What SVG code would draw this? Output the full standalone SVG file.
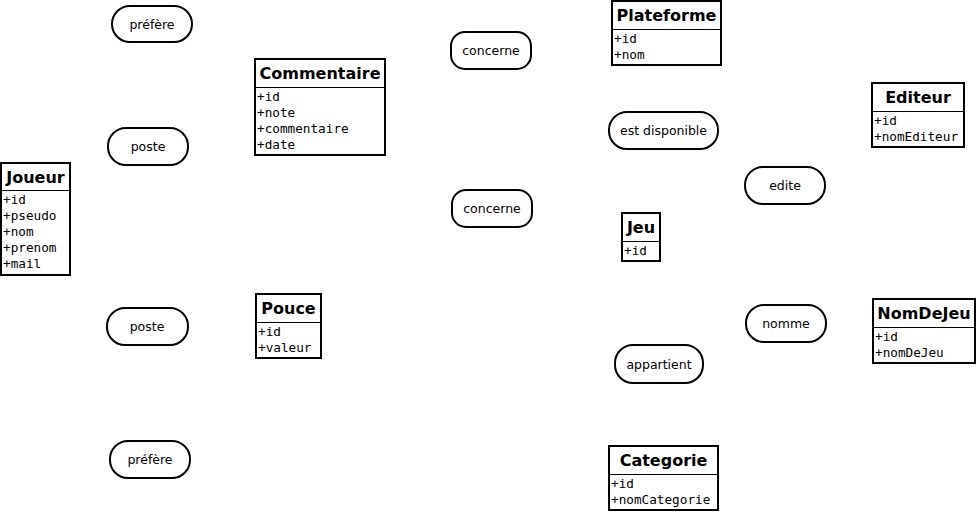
<svg xmlns="http://www.w3.org/2000/svg" width="979" height="512" viewBox="0 0 979 512">
<style>
.box{fill:#fff;stroke:#000;stroke-width:2}
.sep{stroke:#000;stroke-width:1}
.title{font-family:"DejaVu Sans",sans-serif;font-weight:bold;font-size:16px;text-anchor:middle;fill:#000}
.attr{font-family:"DejaVu Sans Mono",monospace;font-size:12.7px;fill:#000}
.rel{fill:#fff;stroke:#000;stroke-width:2}
.rt{font-family:"DejaVu Sans",sans-serif;font-size:12.5px;text-anchor:middle;fill:#000}
</style>
<rect width="979" height="512" fill="#fff"/>
<g id="connectors"></g>
<g id="Joueur">
<rect class="box" x="1" y="163" width="69" height="112"/>
<line class="sep" x1="1" y1="190.5" x2="70" y2="190.5"/>
<text class="title" x="35.5" y="183">Joueur</text>
<text class="attr" x="3" y="204">+id</text>
<text class="attr" x="3" y="220">+pseudo</text>
<text class="attr" x="3" y="236">+nom</text>
<text class="attr" x="3" y="252">+prenom</text>
<text class="attr" x="3" y="268">+mail</text>
</g>
<g id="Commentaire">
<rect class="box" x="255" y="59" width="130" height="96"/>
<line class="sep" x1="255" y1="87.5" x2="385" y2="87.5"/>
<text class="title" x="320" y="79">Commentaire</text>
<text class="attr" x="257" y="101">+id</text>
<text class="attr" x="257" y="117">+note</text>
<text class="attr" x="257" y="133">+commentaire</text>
<text class="attr" x="257" y="149">+date</text>
</g>
<g id="Pouce">
<rect class="box" x="256" y="294" width="65" height="64"/>
<line class="sep" x1="256" y1="322.5" x2="321" y2="322.5"/>
<text class="title" x="288.5" y="314">Pouce</text>
<text class="attr" x="258" y="336">+id</text>
<text class="attr" x="258" y="352">+valeur</text>
</g>
<g id="Plateforme">
<rect class="box" x="612" y="1" width="109" height="64"/>
<line class="sep" x1="612" y1="29.5" x2="721" y2="29.5"/>
<text class="title" x="666.5" y="21">Plateforme</text>
<text class="attr" x="614" y="43">+id</text>
<text class="attr" x="614" y="59">+nom</text>
</g>
<g id="Editeur">
<rect class="box" x="872" y="83" width="92" height="64"/>
<line class="sep" x1="872" y1="111.5" x2="964" y2="111.5"/>
<text class="title" x="918" y="103">Editeur</text>
<text class="attr" x="874" y="125">+id</text>
<text class="attr" x="874" y="141">+nomEditeur</text>
</g>
<g id="Jeu">
<rect class="box" x="622" y="213" width="38" height="48"/>
<line class="sep" x1="622" y1="241.5" x2="660" y2="241.5"/>
<text class="title" x="641" y="233">Jeu</text>
<text class="attr" x="624" y="255">+id</text>
</g>
<g id="NomDeJeu">
<rect class="box" x="873" y="299" width="102" height="64"/>
<line class="sep" x1="873" y1="327.5" x2="975" y2="327.5"/>
<text class="title" x="924" y="319">NomDeJeu</text>
<text class="attr" x="875" y="341">+id</text>
<text class="attr" x="875" y="357">+nomDeJeu</text>
</g>
<g id="Categorie">
<rect class="box" x="609" y="446" width="109" height="64"/>
<line class="sep" x1="609" y1="474.5" x2="718" y2="474.5"/>
<text class="title" x="663.5" y="466">Categorie</text>
<text class="attr" x="611" y="488">+id</text>
<text class="attr" x="611" y="504">+nomCategorie</text>
</g>
<g id="prefere1">
<rect class="rel" x="112" y="6" width="80" height="36" rx="18"/>
<text class="rt" x="152" y="28.5">préfère</text>
</g>
<g id="poste1">
<rect class="rel" x="108" y="128" width="80" height="37" rx="18"/>
<text class="rt" x="148" y="151">poste</text>
</g>
<g id="poste2">
<rect class="rel" x="107" y="308" width="81" height="37" rx="18"/>
<text class="rt" x="147" y="331">poste</text>
</g>
<g id="prefere2">
<rect class="rel" x="110" y="441" width="80" height="37" rx="18"/>
<text class="rt" x="150" y="464">préfère</text>
</g>
<g id="concerne1">
<rect class="rel" x="451" y="32" width="80" height="37" rx="14"/>
<text class="rt" x="491" y="55">concerne</text>
</g>
<g id="concerne2">
<rect class="rel" x="452" y="190" width="80" height="37" rx="14"/>
<text class="rt" x="492" y="213">concerne</text>
</g>
<g id="estDisponible">
<rect class="rel" x="609" y="112" width="109" height="37" rx="18"/>
<text class="rt" x="663.5" y="135">est disponible</text>
</g>
<g id="edite">
<rect class="rel" x="745" y="167" width="80" height="37" rx="18"/>
<text class="rt" x="785" y="190">edite</text>
</g>
<g id="nomme">
<rect class="rel" x="746" y="305" width="80" height="37" rx="18"/>
<text class="rt" x="786" y="328">nomme</text>
</g>
<g id="appartient">
<rect class="rel" x="615" y="345" width="88" height="38" rx="18"/>
<text class="rt" x="659" y="368.5">appartient</text>
</g>
</svg>
